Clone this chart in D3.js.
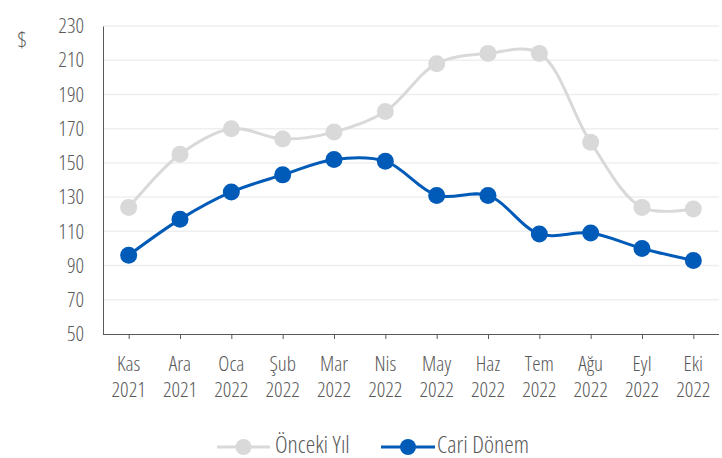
<!DOCTYPE html>
<html><head><meta charset="utf-8">
<script src="https://cdn.jsdelivr.net/npm/d3@7"></script>
<style>
body{margin:0;background:#fff;}
text{font-family:"Open Sans","Liberation Sans Narrow",sans-serif;font-stretch:75%;font-weight:300;fill:#595959;}
</style></head>
<body><svg id="c" width="722" height="458"></svg>
<script>
const months = ["Kas","Ara","Oca","Şub","Mar","Nis","May","Haz","Tem","Ağu","Eyl","Eki"];
const years = ["2021","2021","2022","2022","2022","2022","2022","2022","2022","2022","2022","2022"];
const prevYear = [124,155,170,164,168,180,208,214,214,162,124,123];
const current = [96,117,133,143,152,151,131,131,108.5,109,100,93];
const yTicks = [50,70,90,110,130,150,170,190,210,230];
const seriesNames = ["Önceki Yıl","Cari Dönem"];
const colors = ["#d9d9d9","#005bb8"];

const svg = d3.select("#c");
const L=103, R=719, T=26, B=334;
const FS = 21;
const x = d3.scalePoint().domain(months.map((m,i)=>i)).range([L,R]).padding(0.5);
const y = d3.scaleLinear().domain([50,230]).range([B,T]);

svg.append("g").selectAll("line").data(yTicks.filter(v=>v>50)).join("line")
  .attr("x1",L).attr("x2",R).attr("y1",d=>y(d)).attr("y2",d=>y(d))
  .attr("stroke","#efefef").attr("stroke-width",1.5);

const ya = svg.append("g").attr("transform",`translate(${L},0)`)
  .call(d3.axisLeft(y).tickValues(yTicks).tickSize(0).tickPadding(19));
ya.select(".domain").attr("stroke","#595959");
ya.selectAll("text").attr("font-size",FS).attr("font-family",null).style("fill","#595959");

const xa = svg.append("g").attr("transform",`translate(0,${B})`)
  .call(d3.axisBottom(x).tickSize(5).tickFormat(""));
xa.select(".domain").attr("stroke","#595959").attr("d",`M${L},0.5H${R}`);
xa.selectAll(".tick line").attr("stroke","#595959");
const xl = svg.append("g").selectAll("text").data(months).join("text")
  .attr("x",(d,i)=>x(i)).attr("text-anchor","middle").attr("font-size",FS);
xl.append("tspan").attr("x",(d,i)=>x(i)).attr("y",371).text(d=>d);
xl.append("tspan").attr("x",(d,i)=>x(i)).attr("y",397).text((d,i)=>years[i]);

svg.append("text").attr("x",22).attr("y",48).attr("text-anchor","middle").attr("font-size",22).text("$");

const line = d3.line().x((d,i)=>x(i)).y(d=>y(d)).curve(d3.curveCatmullRom.alpha(0.5));
[prevYear,current].forEach((s,k)=>{
  svg.append("path").attr("d",line(s)).attr("fill","none").attr("stroke",colors[k]).attr("stroke-width",3);
  svg.append("g").selectAll("circle").data(s).join("circle")
    .attr("cx",(d,i)=>x(i)).attr("cy",d=>y(d)).attr("r",8.5).attr("fill",colors[k]);
});

const lg = [{x1:217,x2:270,tx:275},{x1:381,x2:435,tx:437}];
lg.forEach((g,k)=>{
  svg.append("line").attr("x1",g.x1).attr("x2",g.x2).attr("y1",447).attr("y2",447).attr("stroke",colors[k]).attr("stroke-width",3);
  svg.append("circle").attr("cx",(g.x1+g.x2)/2).attr("cy",447).attr("r",8).attr("fill",colors[k]);
  svg.append("text").attr("x",g.tx).attr("y",453).attr("font-size",24).text(seriesNames[k]);
});
</script></body></html>
